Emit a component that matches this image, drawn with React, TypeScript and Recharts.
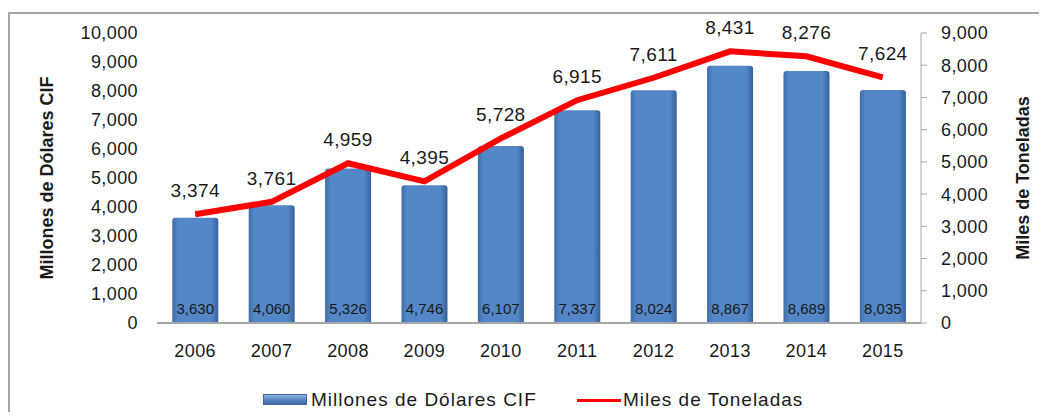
import React from 'react';
import {
  ComposedChart,
  Bar,
  Line,
  XAxis,
  YAxis,
  Label,
  LabelList,
  Legend,
} from 'recharts';

const years = ['2006', '2007', '2008', '2009', '2010', '2011', '2012', '2013', '2014', '2015'];
const dolares = [3630, 4060, 5326, 4746, 6107, 7337, 8024, 8867, 8689, 8035];
const toneladas = [3374, 3761, 4959, 4395, 5728, 6915, 7611, 8431, 8276, 7624];
const leftTicks = [0, 1000, 2000, 3000, 4000, 5000, 6000, 7000, 8000, 9000, 10000];
const rightTicks = [0, 1000, 2000, 3000, 4000, 5000, 6000, 7000, 8000, 9000];

const data = years.map((year, i) => ({ year, dolares: dolares[i], toneladas: toneladas[i] }));

const fmt = (v: number) => v.toLocaleString('en-US');
const FONT = '"Liberation Sans", Arial, sans-serif';
const TEXT = '#1a1a1a';
const tickStyle = { fill: TEXT, fontSize: 18, fontFamily: FONT, letterSpacing: 0.4 };

const LegendContent = () => (
  <div
    style={{
      position: 'relative', height: 20, fontFamily: FONT, fontSize: 19, color: TEXT,
      lineHeight: '22px', letterSpacing: 1,
    }}
  >
    <div
      style={{
        position: 'absolute', left: 255, top: 2, width: 44, height: 11,
        background: 'linear-gradient(to bottom, #8fb4e3, #4f81bd 60%, #3d6aa3)',
        border: '1px solid #3d6aa3', boxSizing: 'border-box',
      }}
    />
    <span style={{ position: 'absolute', left: 303, top: -3, whiteSpace: 'nowrap' }}>Millones de Dólares CIF</span>
    <div style={{ position: 'absolute', left: 569, top: 7, width: 44, height: 3, background: '#ff0000' }} />
    <span style={{ position: 'absolute', left: 615, top: -3, whiteSpace: 'nowrap' }}>Miles de Toneladas</span>
  </div>
);

export default function App() {
  return (
    <div style={{ position: 'relative', width: 1039, height: 404 }}>
      <div
        style={{
          position: 'absolute', left: 0, top: 4, width: 1039, height: 420,
          borderTop: '2px solid #a6a6a6', borderLeft: '2px solid #a6a6a6', boxSizing: 'border-box',
        }}
      />
      <ComposedChart
        width={1039}
        height={404}
        data={data}
        margin={{ top: 25, right: 0, bottom: 39, left: 0 }}
        barCategoryGap="20%"
        style={{ position: 'absolute', left: 0, top: 0 }}
      >
        <defs>
          <linearGradient id="barGrad" x1="0" y1="0" x2="1" y2="0">
            <stop offset="0%" stopColor="#3f6ea8" />
            <stop offset="12%" stopColor="#5487c7" />
            <stop offset="85%" stopColor="#5487c7" />
            <stop offset="100%" stopColor="#36609a" />
          </linearGradient>
        </defs>
        <XAxis
          dataKey="year"
          axisLine={{ stroke: '#a6a6a6', strokeWidth: 2 }}
          tickLine={false}
          tickSize={0}
          tickMargin={21}
          tick={tickStyle}
          height={30}
        />
        <YAxis
          yAxisId="left"
          domain={[0, 10000]}
          ticks={leftTicks}
          tickFormatter={fmt}
          axisLine={false}
          tickLine={false}
          tickSize={0}
          tickMargin={19}
          width={149}
          tick={tickStyle}
        >
          <Label
            value="Millones de Dólares CIF"
            angle={-90}
            position="insideLeft"
            offset={39}
            style={{ textAnchor: 'middle', fontWeight: 'bold', fontSize: 18, fontFamily: FONT, fill: TEXT }}
          />
        </YAxis>
        <YAxis
          yAxisId="right"
          orientation="right"
          domain={[0, 9000]}
          ticks={rightTicks}
          tickFormatter={fmt}
          axisLine={{ stroke: '#a6a6a6' }}
          tickLine={{ stroke: '#a6a6a6' }}
          tickSize={6}
          tickMargin={14}
          width={126}
          tick={tickStyle}
        >
          <Label
            value="Miles de Toneladas"
            angle={-90}
            position="insideRight"
            offset={24}
            style={{ textAnchor: 'middle', fontWeight: 'bold', fontSize: 18, fontFamily: FONT, fill: TEXT }}
          />
        </YAxis>
        <Legend
          content={<LegendContent />}
          wrapperStyle={{ top: 384, left: 0, width: 1039 }}
        />
        <Bar
          yAxisId="left"
          dataKey="dolares"
          name="Millones de Dólares CIF"
          fill="url(#barGrad)"
          radius={[3, 3, 0, 0]}
          isAnimationActive={false}
        >
          <LabelList
            dataKey="dolares"
            position="insideBottom"
            offset={9}
            formatter={(v: any) => fmt(Number(v))}
            style={{ fill: TEXT, fontSize: 15, fontFamily: FONT }}
          />
        </Bar>
        <Line
          yAxisId="right"
          dataKey="toneladas"
          name="Miles de Toneladas"
          stroke="#ff0000"
          strokeWidth={6}
          dot={false}
          activeDot={false}
          isAnimationActive={false}
        >
          <LabelList
            dataKey="toneladas"
            position="top"
            offset={17}
            formatter={(v: any) => fmt(Number(v))}
            style={{ fill: TEXT, fontSize: 19, fontFamily: FONT, letterSpacing: 0.4 }}
          />
        </Line>
      </ComposedChart>
    </div>
  );
}
